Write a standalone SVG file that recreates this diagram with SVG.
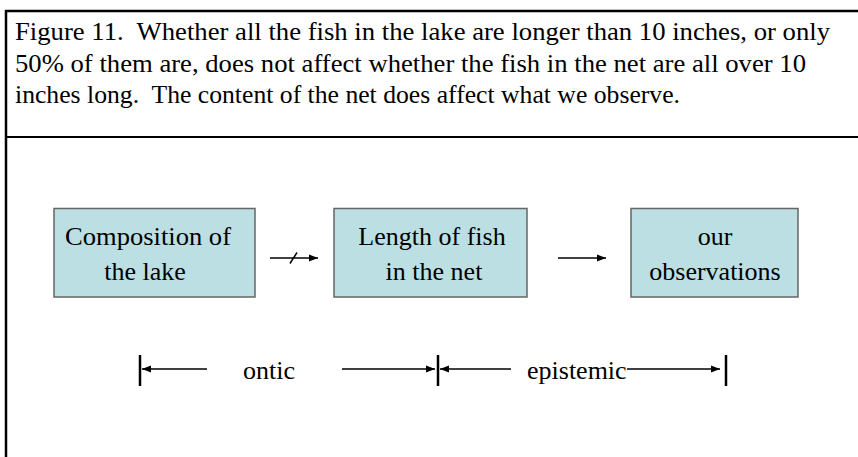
<svg xmlns="http://www.w3.org/2000/svg" width="858" height="457" viewBox="0 0 858 457">
  <style>
    .txt { font-family: "Liberation Serif", "Times New Roman", serif; font-size: 26px; fill: #000; white-space: pre; }
    .box { fill: #BBDFE2; stroke: #666666; stroke-width: 1.5; }
    .frame { stroke: #000; fill: none; }
    .conn { stroke: #000; stroke-width: 1.5; fill: none; }
    .bar { stroke: #000; stroke-width: 2.5; }
  </style>
  <defs>
    <marker id="arrow" markerUnits="userSpaceOnUse" markerWidth="10" markerHeight="8" refX="9" refY="4" orient="auto">
      <path d="M0,0.5 L9,4 L0,7.5 z" fill="#000"/>
    </marker>
  </defs>

  <rect width="858" height="457" fill="#fff"/>

  <!-- caption frame -->
  <g id="frame">
    <line class="frame" x1="5" y1="11" x2="858" y2="11" stroke-width="2.5"/>
    <line class="frame" x1="6" y1="10" x2="6" y2="457" stroke-width="2.5"/>
    <line class="frame" x1="6" y1="137" x2="858" y2="137" stroke-width="2"/>
  </g>

  <g id="caption">
    <text class="txt" x="15" y="40" textLength="815" lengthAdjust="spacingAndGlyphs">Figure 11.  Whether all the fish in the lake are longer than 10 inches, or only</text>
    <text class="txt" x="15" y="72" textLength="791" lengthAdjust="spacingAndGlyphs">50% of them are, does not affect whether the fish in the net are all over 10</text>
    <text class="txt" x="15" y="103" textLength="665" lengthAdjust="spacingAndGlyphs">inches long.  The content of the net does affect what we observe.</text>
  </g>

  <g id="lake">
    <rect class="box" x="54" y="208.5" width="201" height="88.5"/>
    <text class="txt" x="148" y="245" text-anchor="middle" textLength="166" lengthAdjust="spacingAndGlyphs">Composition of</text>
    <text class="txt" x="145" y="280" text-anchor="middle">the lake</text>
  </g>

  <g id="net">
    <rect class="box" x="334" y="208.5" width="193" height="88.5"/>
    <text class="txt" x="432" y="245" text-anchor="middle">Length of fish</text>
    <text class="txt" x="434" y="280" text-anchor="middle">in the net</text>
  </g>

  <g id="observations">
    <rect class="box" x="631" y="208.5" width="167" height="88.5"/>
    <text class="txt" x="715" y="245" text-anchor="middle">our</text>
    <text class="txt" x="715" y="280" text-anchor="middle">observations</text>
  </g>

  <g id="connectors">
    <!-- blocked influence: lake to net -->
    <line class="conn" x1="270" y1="258" x2="318" y2="258" marker-end="url(#arrow)"/>
    <line class="conn" x1="290" y1="263.5" x2="297" y2="252.5" stroke-width="1.2"/>
    <!-- net to observations -->
    <line class="conn" x1="558" y1="258" x2="606" y2="258" marker-end="url(#arrow)"/>
  </g>

  <g id="ranges">
    <line class="bar" x1="140" y1="355" x2="140" y2="386"/>
    <line class="bar" x1="438" y1="355" x2="438" y2="386"/>
    <line class="bar" x1="726" y1="355" x2="726" y2="386"/>
    <line class="conn" x1="207" y1="369" x2="142" y2="369" marker-end="url(#arrow)"/>
    <line class="conn" x1="342" y1="369" x2="435" y2="369" marker-end="url(#arrow)"/>
    <line class="conn" x1="511" y1="369" x2="440" y2="369" marker-end="url(#arrow)"/>
    <line class="conn" x1="627" y1="369" x2="720" y2="369" marker-end="url(#arrow)"/>
    <text class="txt" x="243" y="379">ontic</text>
    <text class="txt" x="527" y="379">epistemic</text>
  </g>
</svg>
